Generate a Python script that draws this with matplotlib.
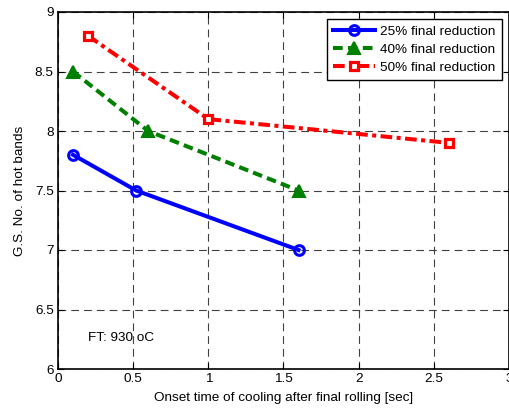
import matplotlib
matplotlib.use("Agg")
import matplotlib.pyplot as plt

plt.rcParams['font.family'] = ['Liberation Sans', 'DejaVu Sans']

x25 = [0.1, 0.52, 1.6]
y25 = [7.8, 7.5, 7.0]
x40 = [0.1, 0.6, 1.6]
y40 = [8.5, 8.0, 7.5]
x50 = [0.2, 1.0, 2.6]
y50 = [8.8, 8.1, 7.9]
labels = ["25% final reduction", "40% final reduction", "50% final reduction"]
xticks = [0, 0.5, 1, 1.5, 2, 2.5, 3]
yticks = [6, 6.5, 7, 7.5, 8, 8.5, 9]

fs = 9.7
fig = plt.figure(figsize=(5.1, 4.09), dpi=100)
ax = fig.add_axes([58/510, 1-369/409, (509-58)/510, (369-12)/409])

ax.plot(x25, y25, '-', color='#0000ff', lw=2.9, marker='o', ms=7, mfc='none', mew=2.2, label=labels[0])
ax.plot(x40, y40, color='#008000', lw=2.9, marker='^', ms=9, mfc='#008000', mew=1.5, label=labels[1],
        linestyle=(0, (2.4, 1.3)))
ax.plot(x50, y50, color='#ff0000', lw=2.9, marker='s', ms=6, mfc='white', mew=2.3, label=labels[2],
        linestyle=(0, (2.9, 1.1, 1.0, 1.1)))

ax.set_xlim(0, 3)
ax.set_ylim(6, 9)
ax.set_xticks(xticks)
ax.set_xticklabels(['0', '0.5', '1', '1.5', '2', '2.5', '3'])
ax.set_yticks(yticks)
ax.set_yticklabels(['6', '6.5', '7', '7.5', '8', '8.5', '9'])
ax.grid(True, color='#404040', ls=(0, (7, 4.5)), lw=0.8)
ax.tick_params(direction='in', top=True, right=True, labelsize=fs, length=4, width=0.8, pad=3)
for s in ax.spines.values():
    s.set_linewidth(1.2)

ax.set_xlabel("Onset time of cooling after final rolling [sec]", fontsize=fs, labelpad=5)
ax.set_ylabel("G.S. No. of hot bands", fontsize=fs, labelpad=6)
ax.text(0.2, 6.26, "FT: 930 oC", fontsize=fs, va='center', ha='left')

leg = ax.legend(loc='upper right', fontsize=fs, fancybox=False, framealpha=1, edgecolor='black',
                handlelength=3.1, borderpad=0.45, labelspacing=0.42, handletextpad=0.4,
                borderaxespad=0.55)
leg.get_frame().set_linewidth(1.0)

fig.savefig("out.png", dpi=100)
